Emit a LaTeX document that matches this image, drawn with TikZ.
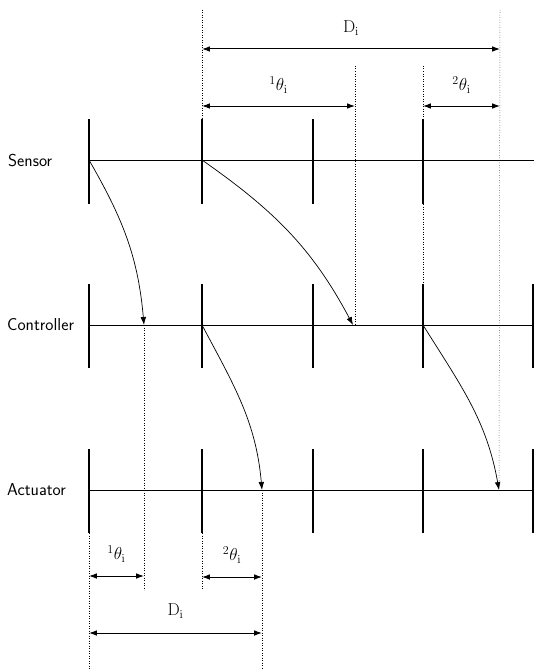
\documentclass[tikz,border=0pt]{standalone}
\usepackage{amsmath}
\usepackage{tikz}
\usetikzlibrary{arrows.meta, calc}

\begin{document}
\begin{tikzpicture}[
    x=1pt, y=-1pt,
    font=\sffamily,
    >={Latex[length=2.8mm, width=2mm]},
    axis/.style    ={line width=1pt},
    tick/.style    ={line width=1.1pt},
    flow/.style    ={->, line width=0.7pt},
    guide/.style   ={dotted, line width=0.5pt},
    dim/.style     ={<->, line width=1pt},
    lbl/.style     ={font=\sffamily\LARGE, inner sep=0pt, anchor=west},
    dimlbl/.style  ={font=\LARGE, inner sep=2pt},
    joint/.style   ={circle, fill=black, inner sep=0pt, minimum size=2.4pt},
]
\useasboundingbox (0,0) rectangle (534,669);

% ---- Time lines ----
\node[lbl] (sensor)     at (8,161) {Sensor};
\node[lbl] (controller) at (7,325) {Controller};
\node[lbl] (actuator)   at (7,490) {Actuator};

\coordinate (s0) at (89,160);  \coordinate (c0) at (89,325);  \coordinate (a0) at (89,490);
\coordinate (s1) at (202,160); \coordinate (c1) at (202,325); \coordinate (a1) at (202,490);
\coordinate (s2) at (313,160); \coordinate (c2) at (313,325); \coordinate (a2) at (313,490);
\coordinate (s3) at (423,160); \coordinate (c3) at (423,325); \coordinate (a3) at (423,490);
\coordinate (send)  at (534,160);
\coordinate (c4) at (533,325); \coordinate (a4) at (533,490);

\draw[axis] (s0) -- (send);
\draw[axis] (c0) -- (c4);
\draw[axis] (a0) -- (a4);

\foreach \n in {s0, s1, s2, s3} {
   \draw[tick] ($(\n)+(0,-41)$) -- ($(\n)+(0,44)$);
}
\foreach \n in {c0, c1, c2, c3, c4, a0, a1, a2, a3, a4} {
   \draw[tick] ($(\n)+(0,-41)$) -- ($(\n)+(0,43)$);
}
\foreach \n in {s1, s2, s3, c1, c2, c3, a1, a2, a3} {
   \node[joint] at (\n) {};
}

% ---- Arrival points ----
\coordinate (c0r) at (144,325);
\coordinate (c1r) at (353,325);
\coordinate (a1r) at (262,490);
\coordinate (a3r) at (499,490);

\draw[flow] (s0) to[out=-60, in=95]  (c0r);
\draw[flow] (s1) to[out=-35, in=118] (c1r);
\draw[flow] (c1) to[out=-62, in=95]  (a1r);
\draw[flow] (c3) to[out=-58, in=100] (a3r);

% ---- Guides (top) ----
\coordinate (g1) at (202,10);
\coordinate (g2) at (355,66);
\coordinate (g3) at (423,66);
\coordinate (g4) at (500,10);

\draw[guide] (g1) -- (202,119);
\draw[guide] (g2) -- (355,325);
\draw[guide] (g3) -- (423,119);
\draw[guide] (423,204) -- (423,284);
\draw[guide] (g4) -- (a3r);

% ---- Guides (bottom) ----
\draw[guide] (89,533) -- (89,669);
\draw[guide] (c0r) -- (144,590);
\draw[guide] (202,533) -- (202,590);
\draw[guide] (a1r) -- (262,669);

% ---- Dimensions (top) ----
\coordinate (tD1) at (202,49);  \coordinate (tD2) at (500,49);
\coordinate (tA1) at (202,106); \coordinate (tA2) at (355,106);
\coordinate (tB1) at (423,106); \coordinate (tB2) at (500,106);

\draw[dim] (tD1) -- node[dimlbl, above=11pt] (topD) {$\mathrm{D}_{\mathrm{i}}$} (tD2);
\draw[dim] (tA1) -- node[dimlbl, above=10pt] (topA) {${}^{1}\theta_{\mathrm{i}}$} (tA2);
\draw[dim] (tB1) -- node[dimlbl, above=10pt] (topB) {${}^{2}\theta_{\mathrm{i}}$} (tB2);

% ---- Dimensions (bottom) ----
\coordinate (bA1) at (89,576);  \coordinate (bA2) at (144,576);
\coordinate (bB1) at (202,577); \coordinate (bB2) at (262,577);
\coordinate (bD1) at (89,633);  \coordinate (bD2) at (262,633);

\draw[dim] (bA1) -- node[dimlbl, above=11pt] (botA) {${}^{1}\theta_{\mathrm{i}}$} (bA2);
\draw[dim] (bB1) -- node[dimlbl, above=11pt] (botB) {${}^{2}\theta_{\mathrm{i}}$} (bB2);
\draw[dim] (bD1) -- node[dimlbl, above=12pt] (botD) {$\mathrm{D}_{\mathrm{i}}$} (bD2);

\end{tikzpicture}
\end{document}
